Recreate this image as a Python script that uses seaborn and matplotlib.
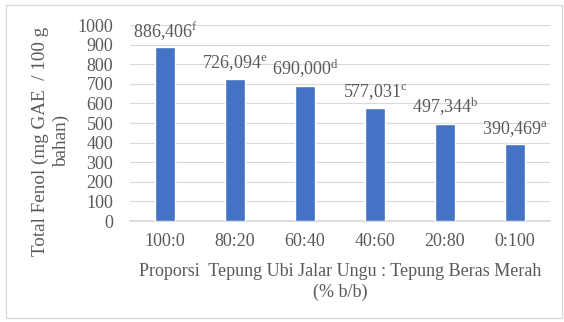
import matplotlib
matplotlib.use("Agg")
import matplotlib.pyplot as plt
import seaborn as sns
import pandas as pd
from matplotlib.patches import Rectangle

categories = ["100:0", "80:20", "60:40", "40:60", "20:80", "0:100"]
values = [886.406, 726.094, 690.000, 577.031, 497.344, 390.469]
value_labels = ["886,406", "726,094", "690,000", "577,031", "497,344", "390,469"]
letters = ["f", "e", "d", "c", "b", "a"]
yticks = [0, 100, 200, 300, 400, 500, 600, 700, 800, 900, 1000]

sns.set_theme(style="white")
plt.rcParams['font.family'] = ['Liberation Serif', 'DejaVu Serif']
plt.rcParams['mathtext.fontset'] = 'custom'
plt.rcParams['mathtext.rm'] = 'Liberation Serif'
plt.rcParams['mathtext.it'] = 'Liberation Serif:italic'
plt.rcParams['mathtext.bf'] = 'Liberation Serif:bold'
gray = "#595959"
fs = 13

df = pd.DataFrame({"cat": categories, "val": values})
fig = plt.figure(figsize=(5.64, 3.22), dpi=100)
ax = fig.add_axes([130/564, 1 - 221/322, 420/564, 196/322])
sns.barplot(data=df, x="cat", y="val", color="#4472C4", width=0.286, saturation=1, ax=ax, zorder=3)

ax.set_ylim(0, 1000)
ax.set_yticks(yticks)
ax.set_yticklabels([str(t) for t in yticks])
ax.grid(axis="y", color="#d9d9d9", linewidth=0.8, zorder=0)
ax.set_axisbelow(True)
for s in ["top", "right", "left"]:
    ax.spines[s].set_visible(False)
ax.spines["bottom"].set_color("#d9d9d9")
ax.tick_params(axis="both", length=0, labelsize=fs, colors=gray)
ax.tick_params(axis="y", pad=12)
ax.tick_params(axis="x", pad=9)
ax.set_xlabel("Proporsi  Tepung Ubi Jalar Ungu : Tepung Beras Merah\n(% b/b)", fontsize=fs,
              color=gray, labelpad=9, linespacing=1.25)
ax.set_ylabel("Total Fenol (mg GAE  / 100 g\nbahan)", fontsize=13.8, color=gray, linespacing=1.3)
ax.yaxis.label.set_va("center")
ax.yaxis.set_label_coords((51 - 130) / 420, (221 - 141) / 196)

for i, (v, lab, let) in enumerate(zip(values, value_labels, letters)):
    ax.annotate(f"{lab}$^{{\\mathrm{{{let}}}}}$", (i, v), xytext=(0, 7.5), textcoords="offset points",
                ha="center", va="baseline", fontsize=fs, color=gray, annotation_clip=False)

fig.patches.append(Rectangle((6/564, 4/322), 556/564, 313/322, transform=fig.transFigure,
                             fill=False, edgecolor="#d9d9d9", linewidth=1))
fig.savefig("out.png", dpi=100)
